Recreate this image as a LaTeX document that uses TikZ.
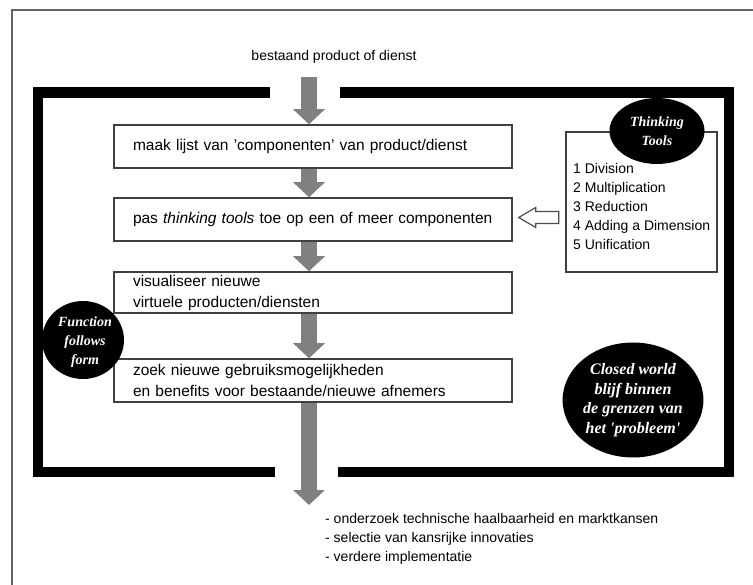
\documentclass[tikz,border=0pt]{standalone}
\usepackage{fontspec}
\setmainfont{Liberation Sans}
\newfontfamily\blobfont{Liberation Serif}
\usetikzlibrary{arrows.meta,calc,shapes.geometric}
\definecolor{arrowgray}{RGB}{128,128,128}
\definecolor{framegray}{RGB}{100,100,100}
\begin{document}
\begin{tikzpicture}[x=1pt,y=-1pt,
  frame/.style={line width=10.5pt, black, line join=miter},
  stepbox/.style={draw=black!75, line width=1.5pt, text width=360pt, inner xsep=19pt, inner ysep=0pt,
     minimum height=43pt, align=left, font=\fontsize{15.5}{21}\selectfont},
  fat/.style={draw=arrowgray, line width=16pt, -{Triangle[width=31pt,length=15pt]}},
  blob/.style={ellipse, fill=black, text=white, inner sep=0pt, align=center,
     font=\blobfont\bfseries\itshape\fontsize{14}{19}\selectfont},
  plain/.style={inner sep=0pt, align=left, font=\fontsize{14}{19}\selectfont},
  hollow/.style={draw=black!70, line width=1.2pt, fill=white, line join=miter}
]
\useasboundingbox (0,0) rectangle (753,585);
\fill[white] (0,0) rectangle (753,585);
% outer thin frame
\draw[framegray, line width=2pt] (12,585) -- (12,10) -- (753,10);
% thick frame with gaps for the flow
\draw[frame] (270,92.5) -- (38,92.5) -- (38,472) -- (275,472);
\draw[frame] (340,92.5) -- (729,92.5) -- (729,472) -- (338,472);

\coordinate (ax) at (309,0);
\node[plain, anchor=center] (start) at (334,57) {bestaand product of dienst};
\coordinate (in) at (309,77);
\coordinate (out) at (309,505);

\node[stepbox] (b1) at (313,146.5) {\strut maak lijst van 'componenten' van product/dienst};
\node[stepbox] (b2) at (313,219.5) {\strut pas \textit{thinking tools} toe op een of meer componenten};
\node[stepbox, minimum height=41pt] (b3) at (313,292.5) {visualiseer nieuwe\\virtuele producten/diensten};
\node[stepbox] (b4) at (313,380.5) {zoek nieuwe gebruiksmogelijkheden\\en benefits voor bestaande/nieuwe afnemers};

\draw[fat] (in) -- (b1.north -| ax);
\draw[fat] (b1.south -| ax) -- (b2.north -| ax);
\draw[fat] (b2.south -| ax) -- (b3.north -| ax);
\draw[fat] (b3.south -| ax) -- (b4.north -| ax);
\draw[fat] (b4.south -| ax) -- (out);

% thinking tools box
\node[draw=black!75, line width=1.5pt, minimum width=151pt, minimum height=140pt, inner sep=0pt] (tt) at (641.5,202) {};
\node[plain, anchor=north west] (ttl) at (573,163) {1 Division\\2 Multiplication\\3 Reduction\\4 Adding a Dimension\\5 Unification};
\node[blob, minimum width=95pt, minimum height=66pt] (ttb) at (657,131) {Thinking\\Tools};
\draw[hollow] ($(b2.east)+(6,-2)$) -- ++(17,-10) -- ++(0,4) -- ++(23,0) -- ++(0,12) -- ++(-23,0) -- ++(0,4) -- cycle;

\node[blob, minimum width=82pt, minimum height=78pt] (fff) at (83,340) {};
\node[blob, fill=none] (ffft) at (85,342) {Function\\follows\\form};
\node[blob, minimum width=137pt, minimum height=115pt, font=\blobfont\bfseries\itshape\fontsize{16}{19.5}\selectfont] (cw) at (633,400) {Closed world\\blijf binnen\\de grenzen van\\het 'probleem'};

\node[plain, anchor=west] (next) at (325,539) {- onderzoek technische haalbaarheid en marktkansen\\- selectie van kansrijke innovaties\\- verdere implementatie};
\end{tikzpicture}
\end{document}
